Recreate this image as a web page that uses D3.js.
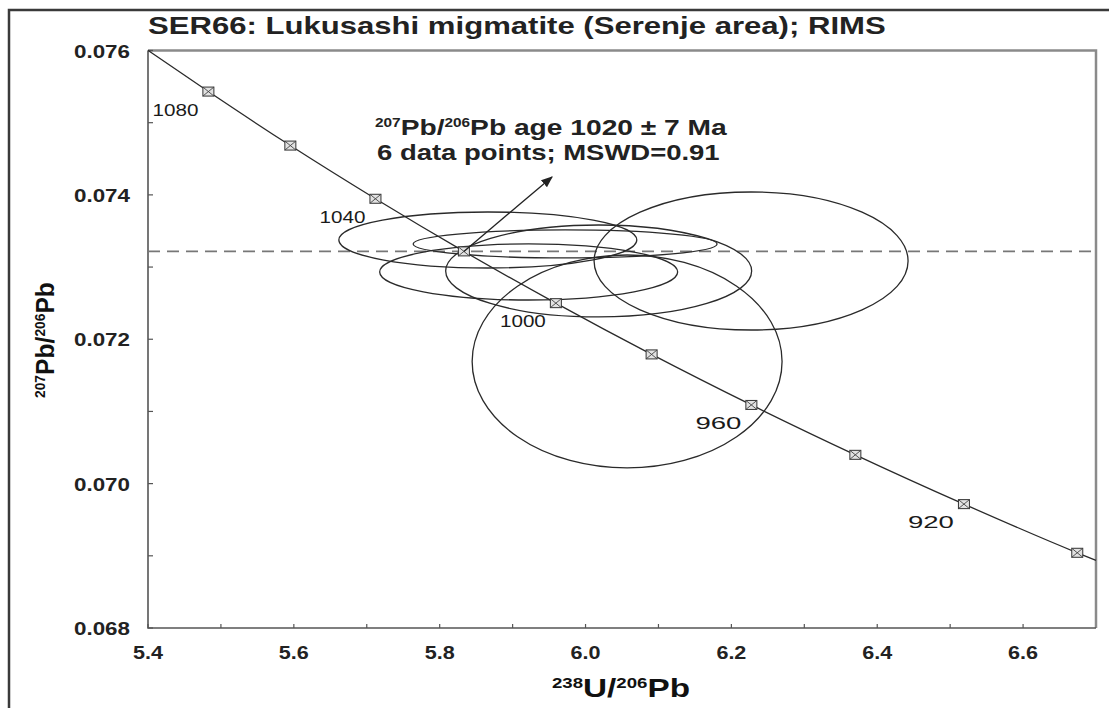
<!DOCTYPE html>
<html>
<head>
<meta charset="utf-8">
<script src="https://cdn.jsdelivr.net/npm/d3@7"></script>
<style>
  body { margin: 0; background: #fff; }
  svg { display: block; font-family: "Liberation Sans", Arial, sans-serif; }
</style>
</head>
<body>
<div id="chart"></div>
<script>

// concordia ticks (age in Ma) and their positions
const concAges = [1080, 1060, 1040, 1020, 1000, 980, 960, 940, 920, 900]
const concX = [5.4828, 5.5952, 5.7119, 5.8332, 5.9593, 6.0906, 6.2274, 6.3700, 6.5189, 6.6743]
const concY = [0.075431, 0.074683, 0.073946, 0.073217, 0.072500, 0.071790, 0.071090, 0.070399, 0.069716, 0.069042]
const labelledAges = [1080, 1040, 1000, 960, 920]
// where the concordia enters and leaves the plot
const concStart = [5.4, 0.076001]
const concEnd = [6.7, 0.068937]

// error ellipses: centre and half-widths
const ellCx = [5.866, 5.972, 5.922, 6.018, 6.057, 6.227]
const ellCy = [0.073375, 0.07332, 0.072932, 0.072946, 0.071692, 0.073084]
const ellRx = [0.2043, 0.2084, 0.2043, 0.2098, 0.2125, 0.2153]
const ellRy = [0.000388, 0.000194, 0.000388, 0.000637, 0.001475, 0.000956]

const meanAgeRatio = 0.073217   // 207Pb/206Pb of the 1020 Ma age
const arrowFrom = [5.8332, 0.073217]
const arrowTo = [5.954, 0.074248]

const xTicks = [5.4, 5.6, 5.8, 6.0, 6.2, 6.4, 6.6]
const xMinor = [5.5, 5.7, 5.9, 6.1, 6.3, 6.5]
const yTicks = [0.068, 0.070, 0.072, 0.074, 0.076]
const yMinor = [0.069, 0.071, 0.073, 0.075]

const W = 1109, H = 708
const pLeft = 148, pRight = 1096, pTop = 50.5, pBottom = 628

const svg = d3.select("#chart").append("svg")
  .attr("width", W).attr("height", H)

const x = d3.scaleLinear().domain([5.4, 6.7]).range([pLeft, pRight])
const y = d3.scaleLinear().domain([0.068, 0.076]).range([pBottom, pTop])

// stretch a text so it covers the given width
function fit(sel, width, tx, ty, rot) {
  const w = sel.node().getComputedTextLength()
  sel.attr("transform", `translate(${tx},${ty})${rot ? " rotate(" + rot + ")" : ""} scale(${width / w},1)`)
}

// outer frame of the figure (left and top edges only)
svg.append("path")
  .attr("d", `M9,${H} L9,10 L${W},10`)
  .attr("fill", "none").attr("stroke", "#3a3a3a").attr("stroke-width", 2.5)

// plot frame: top and right are lighter
svg.append("path")
  .attr("d", `M${pLeft},${pTop} L${pRight},${pTop} L${pRight},${pBottom}`)
  .attr("fill", "none").attr("stroke", "#8a8a8a").attr("stroke-width", 2.5)

svg.append("path")
  .attr("d", `M${pLeft},${pTop} L${pLeft},${pBottom} L${pRight},${pBottom}`)
  .attr("fill", "none").attr("stroke", "#555").attr("stroke-width", 1.6)

// inward ticks
const g = svg.append("g").attr("stroke", "#555").attr("stroke-width", 1.2)
g.selectAll(".xt").data(xTicks.concat(xMinor)).join("line")
  .attr("x1", d => x(d)).attr("x2", d => x(d))
  .attr("y1", pBottom).attr("y2", pBottom - 4)
g.selectAll(".yt").data(yTicks.concat(yMinor)).join("line")
  .attr("y1", d => y(d)).attr("y2", d => y(d))
  .attr("x1", pLeft).attr("x2", pLeft + 5)

// tick labels
svg.append("g").selectAll("text").data(xTicks).join("text")
  .attr("font-size", 19).attr("font-weight", "bold").attr("fill", "#222")
  .attr("text-anchor", "middle")
  .text(d => d.toFixed(1))
  .each(function(d) { fit(d3.select(this), 30, x(d), 659) })

svg.append("g").selectAll("text").data(yTicks).join("text")
  .attr("font-size", 19).attr("font-weight", "bold").attr("fill", "#222")
  .attr("text-anchor", "end")
  .text(d => d.toFixed(3))
  .each(function(d) { fit(d3.select(this), 56, 130, y(d) + 7) })

// title
const title = svg.append("text")
  .attr("font-size", 24).attr("font-weight", "bold").attr("fill", "#222")
  .text("SER66: Lukusashi migmatite (Serenje area); RIMS")
fit(title, 738, 148, 34)

// axis titles
const xl = svg.append("text").attr("font-size", 25).attr("font-weight", "bold").attr("fill", "#111")
xl.append("tspan").attr("font-size", 14).attr("dy", -9).text("238")
xl.append("tspan").attr("dy", 9).text("U/")
xl.append("tspan").attr("font-size", 14).attr("dy", -9).text("206")
xl.append("tspan").attr("dy", 9).text("Pb")
fit(xl, 138, 552, 697)

const yl = svg.append("text").attr("font-size", 25).attr("font-weight", "bold").attr("fill", "#111")
yl.append("tspan").attr("font-size", 14).attr("dy", -9).text("207")
yl.append("tspan").attr("dy", 9).text("Pb/")
yl.append("tspan").attr("font-size", 14).attr("dy", -9).text("206")
yl.append("tspan").attr("dy", 9).text("Pb")
fit(yl, 116, 54, 398, -90)

// dashed line at the weighted mean 207/206 ratio
svg.append("line")
  .attr("x1", pLeft).attr("x2", pRight)
  .attr("y1", y(meanAgeRatio)).attr("y2", y(meanAgeRatio))
  .attr("stroke", "#777").attr("stroke-width", 1.8)
  .attr("stroke-dasharray", "12,7")

// error ellipses
svg.append("g").selectAll("ellipse").data(d3.range(ellCx.length)).join("ellipse")
  .attr("cx", i => x(ellCx[i]))
  .attr("cy", i => y(ellCy[i]))
  .attr("rx", i => x(ellCx[i] + ellRx[i]) - x(ellCx[i]))
  .attr("ry", i => y(ellCy[i]) - y(ellCy[i] + ellRy[i]))
  .attr("fill", "none").attr("stroke", "#2a2a2a").attr("stroke-width", 1.3)

// concordia curve
const concPts = [concStart].concat(concX.map((v, i) => [v, concY[i]]), [concEnd])
svg.append("path")
  .attr("d", d3.line().x(d => x(d[0])).y(d => y(d[1])).curve(d3.curveMonotoneX)(concPts))
  .attr("fill", "none").attr("stroke", "#2a2a2a").attr("stroke-width", 1.3)

// age markers: small crossed boxes
const mk = svg.append("g").selectAll("g").data(concAges).join("g")
  .attr("transform", (d, i) => `translate(${x(concX[i])},${y(concY[i])})`)
mk.append("rect").attr("x", -5.5).attr("y", -4.5).attr("width", 11).attr("height", 9)
  .attr("fill", "#e2e2e2").attr("stroke", "#333").attr("stroke-width", 1)
mk.append("path").attr("d", "M-5.5,-4.5L5.5,4.5M-5.5,4.5L5.5,-4.5")
  .attr("stroke", "#444").attr("stroke-width", 0.9)

svg.append("g").selectAll("text").data(labelledAges).join("text")
  .attr("font-size", 17).attr("fill", "#1a1a1a").attr("text-anchor", "end")
  .text(d => d)
  .each(function(d) {
    const i = concAges.indexOf(d)
    fit(d3.select(this), 46, x(concX[i]) - 10, y(concY[i]) + 24)
  })

// annotation with arrow
svg.append("defs").append("marker")
  .attr("id", "head").attr("viewBox", "0 0 10 10")
  .attr("refX", 9).attr("refY", 5)
  .attr("markerWidth", 9).attr("markerHeight", 9)
  .attr("orient", "auto")
  .append("path").attr("d", "M0,1L10,5L0,9Z").attr("fill", "#222")

svg.append("line")
  .attr("x1", x(arrowFrom[0])).attr("y1", y(arrowFrom[1]))
  .attr("x2", x(arrowTo[0])).attr("y2", y(arrowTo[1]))
  .attr("stroke", "#222").attr("stroke-width", 1.3)
  .attr("marker-end", "url(#head)")

const a1 = svg.append("text").attr("font-size", 22).attr("font-weight", "bold").attr("fill", "#222")
a1.append("tspan").attr("font-size", 12).attr("dy", -8).text("207")
a1.append("tspan").attr("dy", 8).text("Pb/")
a1.append("tspan").attr("font-size", 12).attr("dy", -8).text("206")
a1.append("tspan").attr("dy", 8).text("Pb age 1020 ± 7 Ma")
fit(a1, 352, 375, 135)

const a2 = svg.append("text").attr("font-size", 22).attr("font-weight", "bold").attr("fill", "#222")
  .text("6 data points; MSWD=0.91")
fit(a2, 343, 377, 160)

</script>
</body>
</html>
